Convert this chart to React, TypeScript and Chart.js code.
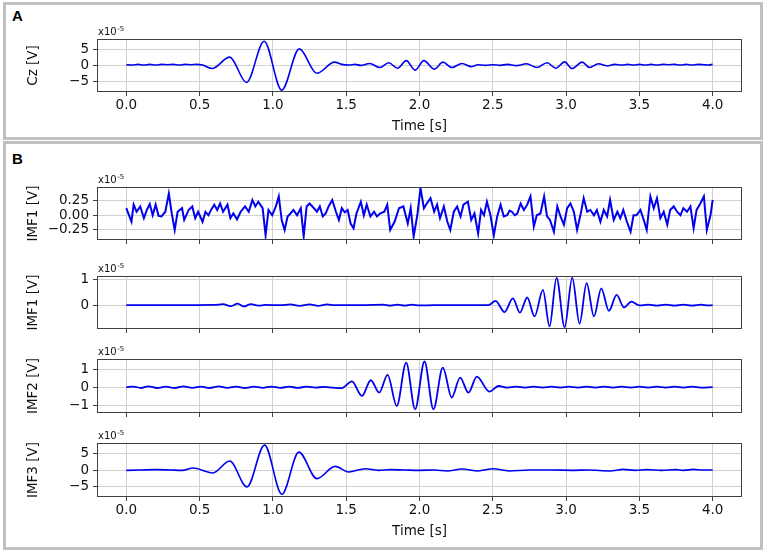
import React, { useEffect, useRef } from 'react';
import { Chart, registerables } from 'chart.js';

Chart.register(...registerables);

// ---------- data ----------
const X_TICKS = [0, 0.5, 1, 1.5, 2, 2.5, 3, 3.5, 4];
const X_TICK_LABELS = ['0.0', '0.5', '1.0', '1.5', '2.0', '2.5', '3.0', '3.5', '4.0'];

const CZ_T = [0.00,0.04,0.08,0.12,0.16,0.20,0.24,0.28,0.32,0.36,
  0.40,0.44,0.48,0.52,0.585,0.705,0.82,0.94,1.06,1.18,
  1.30,1.42,1.47,1.52,1.56,1.60,1.66,1.73,1.79,1.85,
  1.91,1.97,2.03,2.10,2.16,2.22,2.29,2.35,2.40,2.45,
  2.50,2.55,2.60,2.66,2.73,2.80,2.87,2.93,2.99,3.04,
  3.11,3.16,3.22,3.28,3.33,3.38,3.42,3.46,3.50,3.54,
  3.58,3.62,3.66,3.70,3.74,3.78,3.82,3.86,3.90,3.94,
  3.97,4.00];
const CZ_V = [0.2,0.1,0.3,0.1,0.3,0.1,0.3,0.2,0.3,0.1,
  0.3,0.2,0.3,0.1,-1.0,2.6,-5.4,7.6,-7.8,5.2,
  -2.5,1.0,0.3,0.1,0.3,0.0,0.6,-0.7,0.8,-0.9,
  1.5,-1.5,1.5,-1.2,1.0,-0.7,0.6,-0.4,0.2,0.0,
  0.2,0.0,0.3,-0.1,0.5,-0.7,0.8,-0.9,1.1,-1.0,
  1.0,-0.7,0.5,-0.2,0.3,0.1,0.3,0.1,0.3,0.1,
  0.3,0.1,0.3,0.2,0.3,0.1,0.3,0.1,0.3,0.2,
  0.1,0.3];

const IMF1N_T = [0.00,0.035,0.05,0.07,0.095,0.12,0.14,0.16,0.18,0.20,
  0.22,0.24,0.266,0.29,0.31,0.33,0.35,0.38,0.395,0.425,
  0.45,0.47,0.49,0.52,0.54,0.56,0.58,0.60,0.62,0.64,
  0.66,0.69,0.71,0.73,0.755,0.78,0.81,0.835,0.86,0.88,
  0.90,0.93,0.95,0.97,0.995,1.02,1.04,1.06,1.08,1.10,
  1.12,1.14,1.165,1.19,1.21,1.23,1.25,1.28,1.30,1.32,
  1.34,1.36,1.38,1.405,1.43,1.45,1.47,1.49,1.51,1.53,
  1.55,1.57,1.60,1.62,1.64,1.665,1.69,1.71,1.73,1.76,
  1.78,1.80,1.83,1.86,1.89,1.92,1.94,1.96,1.985,2.007,
  2.03,2.05,2.075,2.10,2.12,2.14,2.166,2.19,2.21,2.234,
  2.257,2.28,2.30,2.33,2.353,2.375,2.40,2.42,2.44,2.46,
  2.484,2.507,2.53,2.553,2.575,2.598,2.615,2.63,2.65,2.667,
  2.69,2.712,2.735,2.757,2.78,2.80,2.825,2.85,2.87,2.89,
  2.917,2.94,2.962,2.985,3.007,3.03,3.053,3.075,3.10,3.12,
  3.144,3.166,3.19,3.21,3.234,3.257,3.28,3.30,3.325,3.35,
  3.37,3.39,3.415,3.44,3.46,3.48,3.507,3.53,3.55,3.575,
  3.598,3.62,3.643,3.666,3.69,3.71,3.734,3.757,3.78,3.80,
  3.825,3.848,3.87,3.89,3.916,3.94,3.96,3.985,4.00];
const IMF1N_V = [0.12,-0.11,0.18,0.06,0.15,-0.05,0.09,0.19,0.00,0.18,
  -0.01,-0.02,0.06,0.37,0.03,-0.25,0.06,0.12,-0.08,0.09,
  0.15,-0.05,0.06,-0.11,0.06,0.00,0.10,0.18,0.09,0.20,
  0.06,0.18,-0.05,0.03,-0.07,0.06,0.15,0.06,0.26,0.15,
  0.23,0.12,-0.34,0.09,0.00,0.15,0.32,-0.08,-0.25,-0.02,
  0.03,0.09,0.00,0.12,-0.36,0.15,0.20,0.12,0.06,0.15,
  -0.02,0.03,0.15,0.26,0.06,-0.08,0.12,0.05,0.09,-0.14,
  -0.22,0.03,0.23,0.00,0.18,-0.02,0.06,-0.02,0.03,0.06,
  0.18,-0.25,-0.11,0.12,0.15,-0.14,0.12,-0.36,0.00,0.46,
  0.12,0.20,0.29,0.06,0.18,-0.05,0.15,-0.11,-0.25,0.06,
  0.15,-0.02,0.18,0.23,-0.08,0.03,-0.31,0.09,0.00,0.23,
  0.00,-0.34,-0.02,0.18,-0.02,0.00,0.08,0.06,0.00,0.03,
  0.20,0.09,0.18,0.32,-0.19,0.00,0.03,0.32,-0.02,-0.08,
  -0.28,0.15,-0.02,-0.16,0.12,0.20,0.06,-0.25,0.03,0.29,
  0.06,0.09,0.00,0.09,-0.11,0.09,-0.02,0.26,-0.08,0.06,
  -0.05,0.09,-0.11,-0.28,0.00,0.00,0.09,-0.08,-0.25,0.32,
  0.12,0.29,-0.05,0.06,-0.16,0.09,0.15,0.06,0.00,0.12,
  0.06,0.15,-0.22,0.09,0.20,0.32,-0.25,0.00,0.26];

const IMF1B_T = [0.00,0.30,0.60,0.66,0.71,0.76,0.80,0.85,0.90,0.95,
  1.05,1.12,1.18,1.25,1.31,1.37,1.42,1.60,1.75,1.80,
  1.85,1.90,1.95,2.00,2.10,2.47,2.519,2.580,2.637,2.685,
  2.735,2.785,2.842,2.887,2.935,2.990,3.042,3.092,3.140,3.190,
  3.240,3.292,3.345,3.395,3.445,3.50,3.56,3.62,3.68,3.74,
  3.80,3.86,3.92,3.97,4.00];
const IMF1B_V = [0.00,0.00,0.01,0.04,-0.04,0.06,-0.05,0.04,-0.02,0.01,
  0.00,0.03,-0.03,0.03,-0.03,0.03,0.00,0.00,0.02,-0.02,
  0.02,-0.02,0.02,-0.01,0.00,0.00,0.17,-0.27,0.27,-0.29,
  0.30,-0.44,0.60,-0.83,1.07,-0.86,1.08,-0.72,0.86,-0.44,
  0.66,-0.22,0.40,-0.09,0.14,-0.01,0.02,-0.02,0.02,-0.02,
  0.02,-0.02,0.02,-0.01,0.00];

const IMF2_T = [0.00,0.05,0.10,0.15,0.21,0.27,0.33,0.39,0.45,0.51,
  0.57,0.63,0.69,0.75,0.81,0.87,0.93,0.99,1.05,1.11,
  1.17,1.23,1.29,1.35,1.41,1.47,1.539,1.607,1.668,1.725,
  1.782,1.845,1.909,1.970,2.034,2.095,2.159,2.220,2.277,2.334,
  2.391,2.477,2.539,2.60,2.66,2.72,2.78,2.84,2.90,2.96,
  3.02,3.08,3.14,3.20,3.26,3.32,3.38,3.44,3.50,3.56,
  3.62,3.68,3.74,3.80,3.86,3.92,4.00];
const IMF2_V = [0.00,0.04,-0.04,0.05,-0.04,0.04,-0.04,0.05,-0.03,0.04,
  -0.04,0.05,-0.03,0.04,-0.04,0.04,-0.03,0.04,-0.03,0.03,
  -0.03,0.03,-0.02,0.02,-0.02,-0.05,0.33,-0.48,0.39,-0.30,
  0.69,-1.04,1.37,-1.22,1.43,-1.22,1.09,-0.57,0.54,-0.30,
  0.59,-0.24,0.07,-0.02,0.03,-0.02,0.03,-0.02,0.03,-0.02,
  0.03,-0.02,0.03,-0.02,0.03,-0.02,0.03,-0.02,0.03,-0.02,
  0.03,-0.02,0.03,-0.02,0.03,-0.02,0.01];

const IMF3_T = [0.00,0.10,0.20,0.30,0.38,0.455,0.59,0.705,0.823,0.943,
  1.061,1.177,1.30,1.425,1.516,1.63,1.72,1.80,1.90,2.00,
  2.10,2.19,2.29,2.40,2.50,2.61,2.75,2.90,3.05,3.15,
  3.30,3.39,3.47,3.55,3.65,3.75,3.80,3.87,3.93,4.00];
const IMF3_V = [-0.1,0.0,0.1,0.0,-0.1,0.6,-0.9,2.75,-5.2,7.65,
  -7.45,5.5,-2.65,1.1,-0.6,0.4,-0.1,0.1,0.0,-0.1,
  0.0,-0.3,0.3,-0.3,0.4,-0.3,0.0,0.0,-0.1,0.0,
  -0.3,0.2,-0.1,0.1,-0.1,0.1,-0.1,0.2,0.0,0.0];

const CZ_TICKS = [-5, 0, 5];
const CZ_TICK_LABELS = ['\u22125', '0', '5'];
const IMF1N_TICKS = [-0.25, 0, 0.25];
const IMF1N_TICK_LABELS = ['\u22120.25', '0.00', '0.25'];
const IMF1B_TICKS = [0, 1];
const IMF1B_TICK_LABELS = ['0', '1'];
const IMF2_TICKS = [-1, 0, 1];
const IMF2_TICK_LABELS = ['\u22121', '0', '1'];
const IMF3_TICKS = [-5, 0, 5];
const IMF3_TICK_LABELS = ['\u22125', '0', '5'];

// ---------- style ----------
const W = 767;
const AREA_LEFT = 97;
const AREA_RIGHT = 742;
const FONT = 'DejaVu Sans';
const FONT_SIZE = 13.5;
const TEXT = '#111111';
const LINE = '#0000ee';
const GRID = '#d0d0d0';
const SPINE = '#404040';

type Spec = {
  top: number; bottom: number; areaTop: number; areaBottom: number;
  t: number[]; v: number[]; yMin: number; yMax: number;
  yTicks: number[]; yLabels: string[]; yTitle: string;
  showX: boolean; smooth: boolean; lw: number;
};

const decorPlugin = {
  id: 'decor',
  afterDraw(chart: any, _a: any, opts: any) {
    const { ctx, chartArea: a } = chart;
    ctx.save();
    ctx.strokeStyle = SPINE;
    ctx.lineWidth = 1;
    ctx.strokeRect(a.left + 0.5, a.top + 0.5, a.right - a.left - 1, a.bottom - a.top - 1);
    ctx.fillStyle = TEXT;
    ctx.font = `${FONT_SIZE}px "${FONT}"`;
    ctx.translate(33, (a.top + a.bottom) / 2);
    ctx.rotate(-Math.PI / 2);
    ctx.textAlign = 'center';
    ctx.textBaseline = 'middle';
    ctx.fillText(opts.yTitle, 0, 0);
    ctx.restore();

    ctx.save();
    ctx.fillStyle = TEXT;
    ctx.textAlign = 'left';
    ctx.textBaseline = 'alphabetic';
    ctx.font = `10px "${FONT}"`;
    const base = 'x10';
    ctx.fillText(base, a.left + 1, a.top - 4);
    const w = ctx.measureText(base).width;
    ctx.font = `7px "${FONT}"`;
    ctx.fillText('-5', a.left + 1.5 + w, a.top - 8);
    ctx.restore();
  },
};

function makeConfig(s: Spec): any {
  const font = { family: FONT, size: FONT_SIZE };
  return {
    type: 'line',
    data: {
      datasets: [{
        data: s.t.map((t, i) => ({ x: t, y: s.v[i] })),
        borderColor: LINE,
        borderWidth: s.lw,
        pointRadius: 0,
        fill: false,
        tension: s.smooth ? 0.4 : 0,
        cubicInterpolationMode: s.smooth ? 'monotone' : 'default',
      }],
    },
    options: {
      animation: false,
      responsive: false,
      maintainAspectRatio: false,
      events: [],
      layout: { padding: { left: 0, right: W - AREA_RIGHT, top: s.areaTop - s.top, bottom: 0 } },
      plugins: {
        legend: { display: false },
        tooltip: { enabled: false },
        decor: { yTitle: s.yTitle },
      },
      scales: {
        x: {
          type: 'linear',
          min: -0.2,
          max: 4.2,
          afterBuildTicks: (sc: any) => { sc.ticks = X_TICKS.map((value) => ({ value })); },
          afterFit: (sc: any) => { sc.height = s.bottom - s.areaBottom; },
          border: { display: false },
          grid: { color: GRID, lineWidth: 1, drawTicks: true, tickLength: 4, tickColor: SPINE, tickWidth: 1 },
          ticks: {
            display: s.showX,
            autoSkip: false,
            maxRotation: 0,
            padding: 1,
            color: TEXT,
            font,
            callback: (_v: any, i: number) => X_TICK_LABELS[i],
          },
          title: {
            display: s.showX,
            text: 'Time [s]',
            color: TEXT,
            font,
            padding: { top: 0, bottom: 7 },
          },
        },
        y: {
          type: 'linear',
          min: s.yMin,
          max: s.yMax,
          afterBuildTicks: (sc: any) => { sc.ticks = s.yTicks.map((value) => ({ value })); },
          afterFit: (sc: any) => { sc.width = AREA_LEFT; },
          border: { display: false },
          grid: { color: GRID, lineWidth: 1, drawTicks: true, tickLength: 4, tickColor: SPINE, tickWidth: 1 },
          ticks: {
            autoSkip: false,
            padding: 4,
            color: TEXT,
            font,
            callback: (_v: any, i: number) => s.yLabels[i],
          },
        },
      },
    },
    plugins: [decorPlugin],
  };
}

const SPECS: Spec[] = [
  { top: 23, bottom: 142, areaTop: 39, areaBottom: 92, t: CZ_T, v: CZ_V, yMin: -8.4, yMax: 8.3,
    yTicks: CZ_TICKS, yLabels: CZ_TICK_LABELS, yTitle: 'Cz [V]', showX: true, smooth: true, lw: 1.6 },
  { top: 171, bottom: 256, areaTop: 187, areaBottom: 240, t: IMF1N_T, v: IMF1N_V, yMin: -0.42, yMax: 0.48,
    yTicks: IMF1N_TICKS, yLabels: IMF1N_TICK_LABELS, yTitle: 'IMF1 [V]', showX: false, smooth: false, lw: 2 },
  { top: 260, bottom: 345, areaTop: 276, areaBottom: 329, t: IMF1B_T, v: IMF1B_V, yMin: -0.93, yMax: 1.14,
    yTicks: IMF1B_TICKS, yLabels: IMF1B_TICK_LABELS, yTitle: 'IMF1 [V]', showX: false, smooth: true, lw: 1.8 },
  { top: 343, bottom: 429, areaTop: 359, areaBottom: 413, t: IMF2_T, v: IMF2_V, yMin: -1.43, yMax: 1.57,
    yTicks: IMF2_TICKS, yLabels: IMF2_TICK_LABELS, yTitle: 'IMF2 [V]', showX: false, smooth: true, lw: 1.8 },
  { top: 427, bottom: 547, areaTop: 443, areaBottom: 497, t: IMF3_T, v: IMF3_V, yMin: -8.3, yMax: 8.3,
    yTicks: IMF3_TICKS, yLabels: IMF3_TICK_LABELS, yTitle: 'IMF3 [V]', showX: true, smooth: true, lw: 1.6 },
];

function Plot({ spec }: { spec: Spec }) {
  const ref = useRef<HTMLCanvasElement | null>(null);
  useEffect(() => {
    if (!ref.current) return;
    const chart = new Chart(ref.current, makeConfig(spec));
    return () => chart.destroy();
  }, [spec]);
  const h = spec.bottom - spec.top;
  return (
    <canvas
      ref={ref}
      width={W}
      height={h}
      style={{ position: 'absolute', left: 0, top: spec.top, width: W, height: h, display: 'block' }}
    />
  );
}

export default function App() {
  useEffect(() => {
    document.body.style.margin = '0';
  }, []);
  const panel: React.CSSProperties = {
    position: 'absolute',
    left: 3,
    width: 760,
    border: '3px solid #c0c0c0',
    boxSizing: 'border-box',
  };
  const letter: React.CSSProperties = {
    position: 'absolute',
    left: 12,
    fontFamily: '"Liberation Sans", Arial, sans-serif',
    fontWeight: 'bold',
    fontSize: 15,
    lineHeight: '15px',
    color: '#000',
  };
  return (
    <div style={{ position: 'relative', width: W, height: 554, background: '#fff', overflow: 'hidden' }}>
      <div style={{ ...panel, top: 2, height: 138 }} />
      <div style={{ ...panel, top: 141, height: 409 }} />
      <div style={{ ...letter, top: 8 }}>A</div>
      <div style={{ ...letter, top: 151 }}>B</div>
      {SPECS.map((s, i) => (
        <Plot key={i} spec={s} />
      ))}
    </div>
  );
}
